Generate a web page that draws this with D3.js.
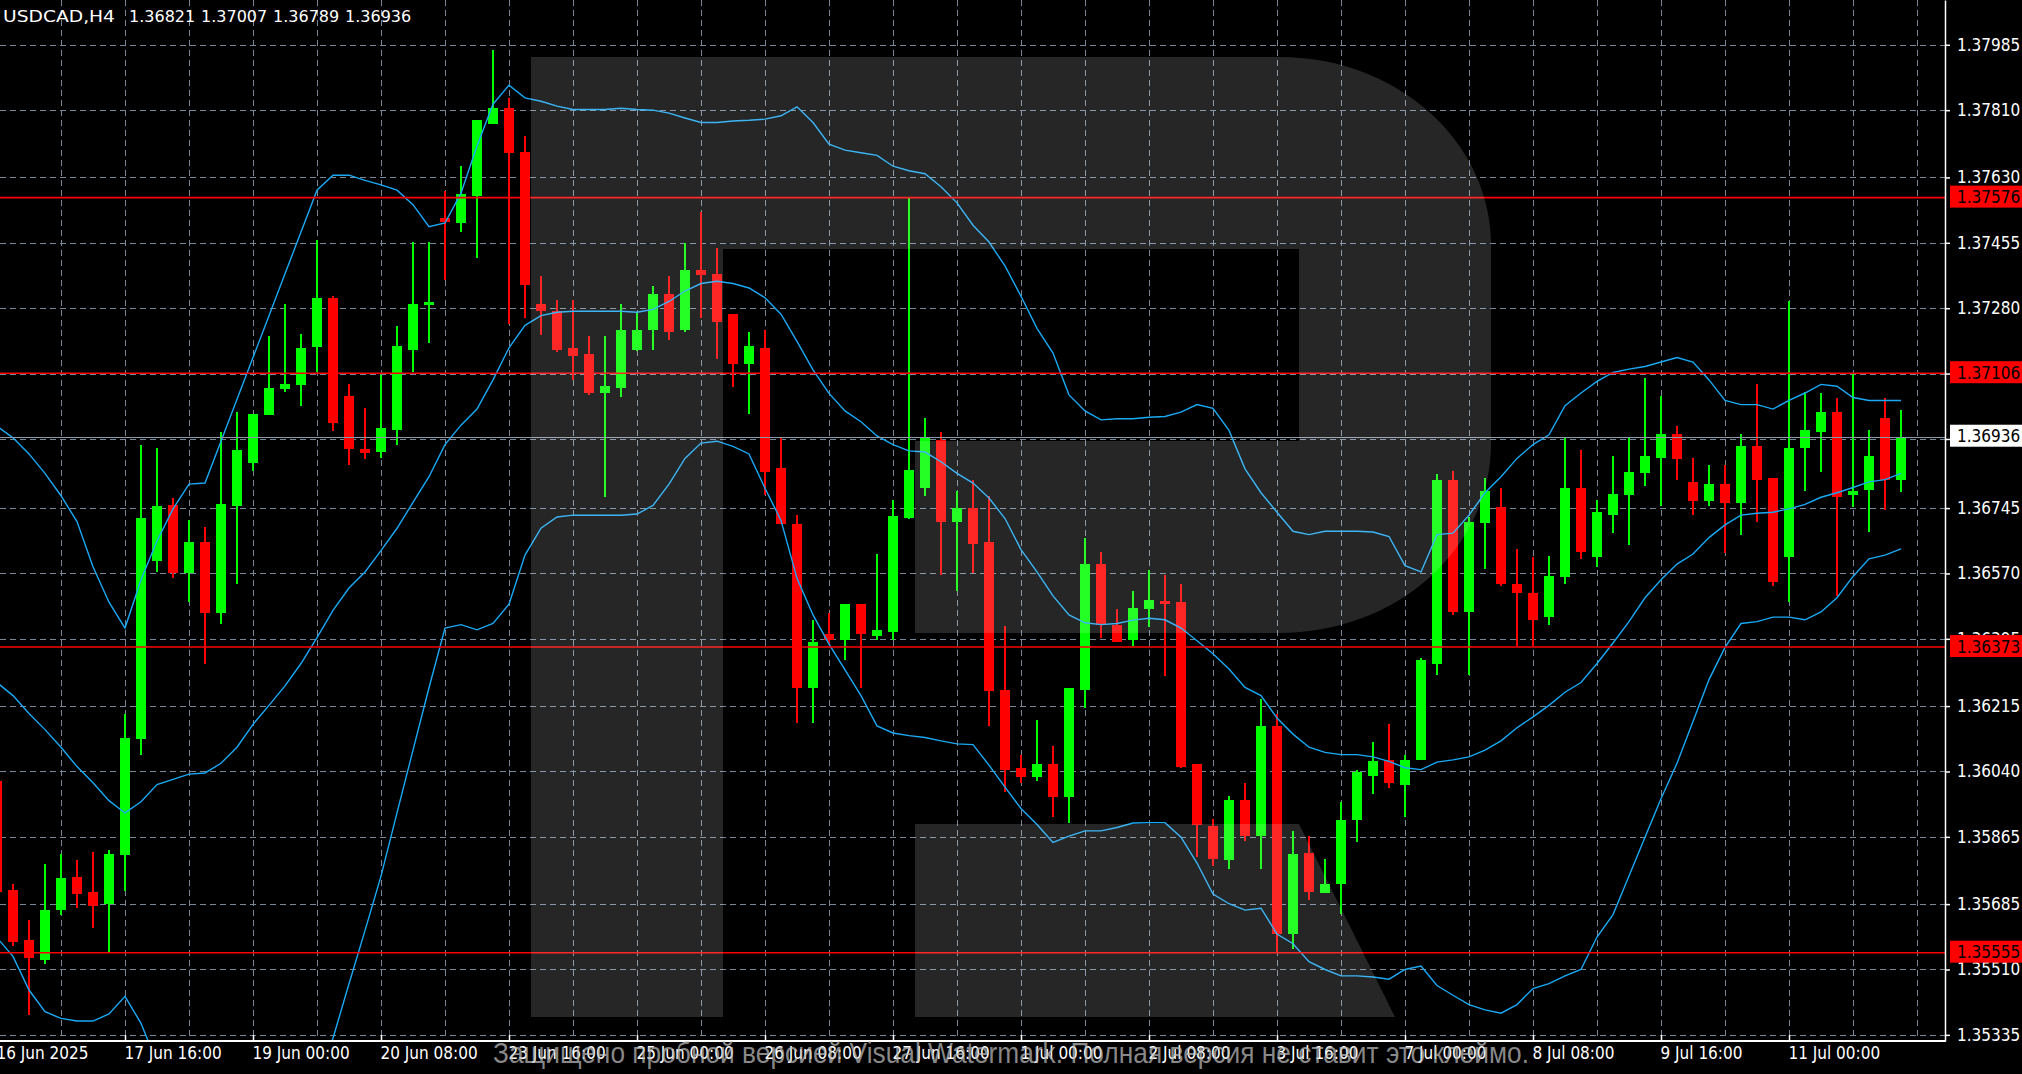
<!DOCTYPE html>
<html><head><meta charset="utf-8">
<script src="https://cdn.jsdelivr.net/npm/d3@7"></script>
<style>html,body{margin:0;padding:0;background:#000;overflow:hidden}</style>
</head><body>
<svg id="c" width="2022" height="1074"></svg>
<script>
// ---------------- DATA ----------------
const symbolTitle = "USDCAD,H4";
const headerQuote = [1.36821, 1.37007, 1.36789, 1.36936];

const opens = [1.36014,1.35722,1.35588,1.35536,1.35669,1.35757,1.35717,1.35686,1.35816,1.36126,
1.36603,1.36752,1.36571,1.36655,1.36464,1.36750,1.36865,1.36993,1.37064,1.37074,
1.37176,1.37307,1.37045,1.36903,1.36895,1.36955,1.37169,1.37288,1.37521,1.37507,
1.37581,1.37772,1.37815,1.37698,1.37291,1.37272,1.37174,1.37157,1.37053,1.37067,
1.37169,1.37222,1.37319,1.37222,1.37383,1.37372,1.37265,1.37131,1.37174,1.36852,
1.36703,1.36264,1.36409,1.36393,1.36488,1.36403,1.36414,1.36719,1.36798,1.36926,
1.36709,1.36745,1.36655,1.36259,1.36050,1.36024,1.36059,1.35971,1.36259,1.36595,
1.36433,1.36391,1.36474,1.36495,1.36493,1.36060,1.35895,1.35803,1.35964,1.35867,
1.36162,1.35604,1.35821,1.35714,1.35738,1.35909,1.36028,1.36072,1.36003,1.36072,
1.36329,1.36821,1.36467,1.36705,1.36748,1.36543,1.36519,1.36453,1.36560,1.36798,
1.36614,1.36726,1.36779,1.36838,1.36879,1.36943,1.36815,1.36764,1.36810,1.36759,
1.36912,1.36826,1.36614,1.36907,1.36948,1.37002,1.36781,1.36793,1.36986,1.36821];

const highs = [1.36036,1.35740,1.35643,1.35793,1.35819,1.35803,1.35824,1.35829,1.36195,1.36915,
1.36905,1.36772,1.36714,1.36695,1.36948,1.37002,1.36996,1.37205,1.37291,1.37210,
1.37462,1.37312,1.37076,1.37014,1.37100,1.37233,1.37457,1.37457,1.37595,1.37660,
1.37784,1.37971,1.37843,1.37741,1.37367,1.37302,1.37302,1.37205,1.37205,1.37291,
1.37269,1.37340,1.37367,1.37455,1.37538,1.37441,1.37265,1.37217,1.37222,1.36936,
1.36726,1.36445,1.36464,1.36488,1.36488,1.36622,1.36767,1.37576,1.36986,1.36948,
1.36791,1.36821,1.36778,1.36429,1.36085,1.36178,1.36109,1.36264,1.36664,1.36628,
1.36474,1.36522,1.36579,1.36565,1.36541,1.36060,1.35912,1.35974,1.36009,1.36235,
1.36195,1.35881,1.35867,1.35807,1.35957,1.36043,1.36119,1.36167,1.36085,1.36343,
1.36836,1.36845,1.36721,1.36826,1.36798,1.36636,1.36615,1.36617,1.36936,1.36900,
1.36766,1.36884,1.36933,1.37093,1.37045,1.36965,1.36879,1.36860,1.36860,1.36943,
1.37077,1.36826,1.37298,1.37057,1.37052,1.37040,1.37105,1.36953,1.37040,1.37007];

const lows = [1.35691,1.35574,1.35388,1.35524,1.35657,1.35674,1.35622,1.35557,1.35721,1.36083,
1.36574,1.36559,1.36493,1.36329,1.36436,1.36543,1.36845,1.36993,1.37057,1.37019,
1.37108,1.36950,1.36860,1.36876,1.36879,1.36914,1.37108,1.37186,1.37355,1.37484,
1.37415,1.37772,1.37238,1.37255,1.37207,1.37164,1.37088,1.37047,1.36774,1.37041,
1.37165,1.37169,1.37196,1.37217,1.37255,1.37143,1.37069,1.36996,1.36781,1.36703,
1.36169,1.36169,1.36381,1.36338,1.36264,1.36393,1.36393,1.36715,1.36778,1.36565,
1.36522,1.36571,1.36162,1.35985,1.36010,1.36014,1.35917,1.35902,1.36209,1.36398,
1.36386,1.36376,1.36428,1.36295,1.36048,1.35812,1.35786,1.35778,1.35854,1.35778,
1.35557,1.35566,1.35697,1.35714,1.35659,1.35850,1.35981,1.35995,1.35917,1.36072,
1.36298,1.36459,1.36298,1.36581,1.36536,1.36376,1.36376,1.36433,1.36543,1.36609,
1.36588,1.36678,1.36645,1.36803,1.36750,1.36821,1.36726,1.36750,1.36626,1.36672,
1.36709,1.36536,1.36493,1.36790,1.36841,1.36510,1.36747,1.36681,1.36741,1.36789];

const closes = [1.35717,1.35583,1.35540,1.35669,1.35755,1.35712,1.35679,1.35819,1.36129,1.36719,
1.36750,1.36571,1.36655,1.36464,1.36757,1.36900,1.36996,1.37067,1.37077,1.37174,
1.37307,1.36972,1.36902,1.36893,1.36960,1.37179,1.37291,1.37296,1.37510,1.37586,
1.37784,1.37815,1.37695,1.37341,1.37272,1.37169,1.37153,1.37052,1.37072,1.37222,
1.37222,1.37319,1.37217,1.37383,1.37369,1.37243,1.37131,1.37179,1.36841,1.36703,
1.36264,1.36386,1.36393,1.36488,1.36409,1.36419,1.36724,1.36847,1.36936,1.36709,
1.36745,1.36648,1.36255,1.36045,1.36024,1.36059,1.35971,1.36264,1.36595,1.36433,
1.36386,1.36478,1.36500,1.36488,1.36053,1.35897,1.35807,1.35964,1.35867,1.36162,
1.35604,1.35819,1.35717,1.35738,1.35910,1.36038,1.36069,1.36009,1.36072,1.36338,
1.36821,1.36467,1.36709,1.36791,1.36543,1.36517,1.36446,1.36562,1.36798,1.36628,
1.36734,1.36783,1.36841,1.36884,1.36943,1.36876,1.36764,1.36810,1.36759,1.36912,
1.36821,1.36548,1.36905,1.36953,1.37002,1.36774,1.36791,1.36884,1.36821,1.36936];

const bbUpper = [1.36964,1.36933,1.36890,1.36838,1.36778,1.36709,1.36588,1.36493,1.36424,1.36553,
1.36657,1.36743,1.36809,1.36812,1.36924,1.37036,1.37148,1.37260,1.37372,1.37484,
1.37596,1.37636,1.37636,1.37622,1.37610,1.37596,1.37557,1.37498,1.37508,1.37588,
1.37714,1.37826,1.37877,1.37843,1.37834,1.37821,1.37812,1.37812,1.37812,1.37815,
1.37812,1.37810,1.37802,1.37789,1.37777,1.37777,1.37781,1.37783,1.37786,1.37795,
1.37819,1.37777,1.37719,1.37703,1.37696,1.37689,1.37660,1.37648,1.37640,1.37605,
1.37562,1.37502,1.37457,1.37393,1.37312,1.37226,1.37160,1.37048,1.37005,1.36981,
1.36984,1.36984,1.36988,1.36990,1.37002,1.37022,1.37012,1.36953,1.36850,1.36786,
1.36734,1.36683,1.36674,1.36683,1.36683,1.36683,1.36681,1.36669,1.36591,1.36574,
1.36674,1.36678,1.36726,1.36786,1.36829,1.36878,1.36915,1.36941,1.37019,1.37053,
1.37084,1.37108,1.37117,1.37124,1.37136,1.37148,1.37136,1.37088,1.37033,1.37022,
1.37022,1.37010,1.37033,1.37053,1.37076,1.37071,1.37041,1.37033,1.37033,1.37033];

const bbMiddle = [1.36278,1.36243,1.36195,1.36152,1.36105,1.36053,1.36010,1.35962,1.35929,1.35959,
1.36005,1.36019,1.36033,1.36036,1.36062,1.36105,1.36166,1.36217,1.36269,1.36329,
1.36398,1.36471,1.36531,1.36574,1.36631,1.36691,1.36760,1.36829,1.36915,1.36967,
1.37010,1.37088,1.37174,1.37234,1.37260,1.37269,1.37272,1.37272,1.37272,1.37272,
1.37269,1.37277,1.37298,1.37326,1.37346,1.37352,1.37346,1.37334,1.37308,1.37264,
1.37191,1.37115,1.37052,1.37005,1.36976,1.36938,1.36915,1.36898,1.36895,1.36869,
1.36838,1.36812,1.36772,1.36717,1.36634,1.36574,1.36510,1.36459,1.36438,1.36433,
1.36436,1.36445,1.36450,1.36446,1.36424,1.36390,1.36355,1.36314,1.36265,1.36243,
1.36183,1.36140,1.36105,1.36091,1.36085,1.36085,1.36079,1.36067,1.36050,1.36045,
1.36065,1.36071,1.36079,1.36097,1.36122,1.36157,1.36186,1.36217,1.36252,1.36278,
1.36329,1.36384,1.36441,1.36505,1.36553,1.36595,1.36622,1.36666,1.36700,1.36726,
1.36731,1.36734,1.36743,1.36755,1.36774,1.36786,1.36800,1.36815,1.36821,1.36838];

const bbLower = [1.35595,1.35545,1.35455,1.35397,1.35379,1.35372,1.35372,1.35391,1.35438,1.35366,
1.35260,1.35243,1.35243,1.35243,1.35191,1.35174,1.35174,1.35174,1.35166,1.35174,
1.35217,1.35326,1.35472,1.35614,1.35760,1.35929,1.36097,1.36264,1.36424,1.36433,
1.36419,1.36436,1.36488,1.36619,1.36691,1.36721,1.36726,1.36726,1.36726,1.36726,
1.36729,1.36752,1.36809,1.36878,1.36919,1.36924,1.36910,1.36890,1.36798,1.36712,
1.36557,1.36459,1.36381,1.36312,1.36243,1.36162,1.36143,1.36136,1.36131,1.36122,
1.36114,1.36112,1.36057,1.35998,1.35941,1.35898,1.35850,1.35867,1.35881,1.35881,
1.35890,1.35902,1.35903,1.35903,1.35864,1.35795,1.35712,1.35686,1.35669,1.35674,
1.35605,1.35579,1.35531,1.35510,1.35493,1.35493,1.35490,1.35484,1.35510,1.35519,
1.35467,1.35441,1.35416,1.35402,1.35393,1.35416,1.35459,1.35472,1.35493,1.35510,
1.35597,1.35657,1.35760,1.35864,1.35967,1.36062,1.36174,1.36286,1.36372,1.36436,
1.36441,1.36453,1.36453,1.36446,1.36467,1.36505,1.36562,1.36609,1.36619,1.36636];

const levelLines = [1.37576, 1.37106, 1.36373, 1.35555];
const bidPrice = 1.36936;
const priceTicks = [1.37985,1.37810,1.37630,1.37455,1.37280,1.37105,1.36930,1.36745,
                    1.36570,1.36395,1.36215,1.36040,1.35865,1.35685,1.35510,1.35335];
const timeLabels = ["16 Jun 2025","17 Jun 16:00","19 Jun 00:00","20 Jun 08:00","23 Jun 16:00",
  "25 Jun 00:00","26 Jun 08:00","27 Jun 16:00","1 Jul 00:00","2 Jul 08:00","3 Jul 16:00",
  "7 Jul 00:00","8 Jul 08:00","9 Jul 16:00","11 Jul 00:00"];
const watermarkText = "Защищено пробной версией Visual Watermark. Полная версия не ставит это клеймо.";

// ---------------- DRAW ----------------
const svg = d3.select("#c");
const W = 2022, H = 1074, PR = 1945, PB = 1041;
const AXFONT = "'DejaVu Sans Condensed','DejaVu Sans',sans-serif";
const GRID = "#778899";
const UP = "#00ff00", DN = "#ff0000", BAND = "#1aa9f5";

const x = d3.scaleLinear().domain([0, opens.length - 1]).range([-3, -3 + 16 * (opens.length - 1)]);
const y = d3.scaleLinear().domain([1.353186, 1.381049]).range([PB, 0]);

svg.append("rect").attr("width", W).attr("height", H).attr("fill", "#000");
svg.append("defs").append("clipPath").attr("id", "plot")
  .append("rect").attr("x", 0).attr("y", 0).attr("width", PR).attr("height", PB);

const plot = svg.append("g").attr("clip-path", "url(#plot)");

// grid
plot.append("g").selectAll("line").data(priceTicks).join("line")
  .attr("x1", 0).attr("x2", PR)
  .attr("y1", d => Math.round(y(d)) + 0.5).attr("y2", d => Math.round(y(d)) + 0.5)
  .attr("stroke", GRID).attr("stroke-width", 1).attr("stroke-dasharray", "6,4");
const vIdx = d3.range(4, 124, 4).filter(i => x(i) < PR);
plot.append("g").selectAll("line").data(vIdx).join("line")
  .attr("x1", d => x(d) + 0.5).attr("x2", d => x(d) + 0.5)
  .attr("y1", 0).attr("y2", PB)
  .attr("stroke", GRID).attr("stroke-width", 1).attr("stroke-dasharray", "6,4");

// candles
const candles = opens.map((o, i) => ({i, o, h: highs[i], l: lows[i], c: closes[i]}));
const cg = plot.append("g");
cg.selectAll("rect.wick").data(candles).join("rect").attr("class", "wick")
  .attr("x", d => x(d.i) - 1).attr("width", 2)
  .attr("y", d => Math.round(y(d.h)))
  .attr("height", d => Math.max(1, Math.round(y(d.l)) - Math.round(y(d.h))))
  .attr("fill", d => d.c >= d.o ? UP : DN);
cg.selectAll("rect.body").data(candles).join("rect").attr("class", "body")
  .attr("x", d => x(d.i) - 5).attr("width", 10)
  .attr("y", d => Math.round(y(Math.max(d.o, d.c))))
  .attr("height", d => Math.max(2, Math.round(y(Math.min(d.o, d.c))) - Math.round(y(Math.max(d.o, d.c)))))
  .attr("fill", d => d.c >= d.o ? UP : DN);

// bollinger bands
const line = d3.line().x((d, i) => x(i)).y(d => y(d));
[bbUpper, bbMiddle, bbLower].forEach(arr => {
  plot.append("path").attr("d", line(arr)).attr("fill", "none")
    .attr("stroke", BAND).attr("stroke-width", 1.4);
});

// horizontal levels
plot.append("g").selectAll("line").data(levelLines).join("line")
  .attr("x1", 0).attr("x2", PR)
  .attr("y1", d => y(d)).attr("y2", d => y(d))
  .attr("stroke", "#ff0000").attr("stroke-width", 1.6);
plot.append("line").attr("x1", 0).attr("x2", PR)
  .attr("y1", Math.round(y(bidPrice)) + 0.5).attr("y2", Math.round(y(bidPrice)) + 0.5)
  .attr("stroke", "#8d99a6").attr("stroke-width", 1.2);

// watermark "R" (translucent overlay)
const logo = plot.append("g").attr("fill", "rgba(255,255,255,0.149)");
logo.append("path").attr("d",
  "M531,57 L1280,57 A211,188 0 0 1 1491,245 L1491,444 A211,189 0 0 1 1280,633 " +
  "L915,633 L915,441 L1299,441 L1299,249 L723,249 L723,1017 L531,1017 Z");
logo.append("path").attr("d", "M915,824 L1299,824 L1395,1017 L915,1017 Z");

// right price axis
const ra = svg.append("g").attr("transform", `translate(${PR},0)`)
  .call(d3.axisRight(y).tickValues(priceTicks).tickSizeInner(5).tickSizeOuter(0)
    .tickPadding(7).tickFormat(d3.format(".5f")));
ra.select(".domain").attr("stroke", "#fff").attr("stroke-width", 1.5);
ra.selectAll(".tick line").attr("stroke", "#fff").attr("stroke-width", 1.5);
ra.selectAll(".tick text").attr("fill", "#fff").style("font-family", AXFONT)
  .style("font-stretch", "condensed").style("font-size", "17px");

// bottom time axis
const ba = svg.append("g").attr("transform", `translate(0,${PB})`)
  .call(d3.axisBottom(x).tickValues(d3.range(0, opens.length, 8))
    .tickSizeInner(-6).tickSizeOuter(0).tickFormat((d, k) => timeLabels[k]));
ba.select(".domain").remove();
ba.selectAll(".tick line").attr("stroke", "#fff").attr("stroke-width", 1.5);
ba.selectAll(".tick text").attr("fill", "#fff").attr("text-anchor", "start")
  .attr("x", -1).attr("y", 6).attr("dy", "0.71em")
  .style("font-family", AXFONT).style("font-stretch", "condensed").style("font-size", "17px");
svg.append("line").attr("x1", 0).attr("x2", PR + 0.75).attr("y1", PB).attr("y2", PB)
  .attr("stroke", "#fff").attr("stroke-width", 2);

// price boxes
const boxes = levelLines.map(v => ({v, bg: "#ff0000"})).concat([{v: bidPrice, bg: "#ffffff"}]);
const bx = svg.append("g");
boxes.forEach(b => {
  const yy = y(b.v);
  bx.append("rect").attr("x", 1950).attr("y", yy - 12).attr("width", 72).attr("height", 22).attr("fill", b.bg);
  bx.append("text").attr("x", 1957).attr("y", yy).attr("dy", "0.32em").attr("fill", "#000")
    .style("font-family", AXFONT).style("font-stretch", "condensed").style("font-size", "17px")
    .text(d3.format(".5f")(b.v));
});

// header
const hf = "'DejaVu Sans',sans-serif";
svg.append("text").attr("x", 3).attr("y", 21.5).attr("fill", "#fff")
  .attr("textLength", 112).attr("lengthAdjust", "spacingAndGlyphs")
  .style("font-family", hf).style("font-size", "16px").text(symbolTitle);
svg.append("g").selectAll("text").data(headerQuote).join("text")
  .attr("x", (d, k) => 129 + 72 * k).attr("y", 21.5).attr("fill", "#fff")
  .style("font-family", hf).style("font-size", "16px").text(d => d3.format(".5f")(d));

// bottom watermark text
svg.append("text").attr("x", 493).attr("y", 1063)
  .attr("textLength", 1036).attr("lengthAdjust", "spacingAndGlyphs")
  .attr("fill", "rgb(190,190,190)").attr("fill-opacity", 0.72)
  .style("font-family", "'Liberation Sans Narrow','Liberation Sans',sans-serif")
  .style("font-size", "29px").text(watermarkText);
</script>
</body></html>
